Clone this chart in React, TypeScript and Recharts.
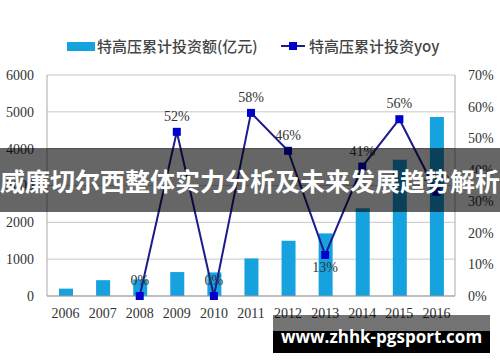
import React from 'react';
import { ComposedChart, Bar, Line, XAxis, YAxis, CartesianGrid, Legend, LabelList } from 'recharts';

const years = ['2006', '2007', '2008', '2009', '2010', '2011', '2012', '2013', '2014', '2015', '2016'];
const investment = [200, 430, 450, 650, 640, 1020, 1500, 1700, 2380, 3700, 4860];
const yoy = [null, null, 0, 52, 0, 58, 46, 13, 41, 56, 33];
const leftTicks = [0, 1000, 2000, 3000, 4000, 5000, 6000];
const rightTicks = [0, 10, 20, 30, 40, 50, 60, 70];

const barName = '特高压累计投资额(亿元)';
const lineName = '特高压累计投资yoy';
const bannerText = '威廉切尔西整体实力分析及未来发展趋势解析';
const siteText = 'www.zhhk-pgsport.com';

const data = years.map((year, i) => ({ year, investment: investment[i], yoy: yoy[i] }));

const BAR_COLOR = '#16a2de';
const LINE_COLOR = '#1c1c8e';
const DOT_COLOR = '#0000cc';
const tickStyle = { fontFamily: '"Liberation Serif", "DejaVu Serif", serif', fontSize: 14, fill: '#333' };

const SquareDot = (props: any) => {
    const { cx, cy, value } = props;
    if (value == null || cx == null || cy == null) return null;
    return <rect x={cx - 4} y={cy - 4} width={8} height={8} fill={DOT_COLOR} />;
};

const renderLabel = (props: any) => {
    const { x, y, value, index } = props;
    if (value == null) return null;
    const below = years[index] === '2013';
    return (
        <text
            x={x}
            y={below ? y + 17 : y - 11}
            textAnchor="middle"
            style={tickStyle}
        >
            {value}%
        </text>
    );
};

const renderLegend = () => (
    <div style={{ position: 'relative', width: 500, height: 20, fontFamily: '"Noto Sans CJK SC", sans-serif', fontSize: 15, color: '#444', fontWeight: 500 }}>
        <div style={{ position: 'absolute', left: 67, top: 6, width: 28, height: 9, background: BAR_COLOR }} />
        <span style={{ position: 'absolute', left: 97, top: -1, whiteSpace: 'nowrap' }}>{barName}</span>
        <div style={{ position: 'absolute', left: 281, top: 9, width: 24, height: 2, background: LINE_COLOR }} />
        <div style={{ position: 'absolute', left: 289, top: 6, width: 8, height: 8, background: DOT_COLOR }} />
        <span style={{ position: 'absolute', left: 309, top: -1, whiteSpace: 'nowrap' }}>{lineName}</span>
    </div>
);

const App = () => {
    return (
        <div style={{ position: 'absolute', left: 0, top: 0, width: 500, height: 362, background: '#fff', overflow: 'hidden' }}>
            <ComposedChart width={500} height={362} data={data} margin={{ top: 75, right: 0, bottom: 36, left: 0 }}>
                <CartesianGrid vertical={false} stroke="#c8c8c8" yAxisId="left" />
                <XAxis
                    dataKey="year"
                    height={30}
                    tick={tickStyle}
                    tickLine={false}
                    tickMargin={6}
                    axisLine={{ stroke: '#999' }}
                    interval={0}
                />
                <YAxis
                    yAxisId="left"
                    width={47}
                    domain={[0, 6000]}
                    ticks={leftTicks}
                    tick={tickStyle}
                    tickLine={false}
                    tickMargin={7}
                    axisLine={{ stroke: '#aaa' }}
                />
                <YAxis
                    yAxisId="right"
                    orientation="right"
                    width={45}
                    domain={[0, 70]}
                    ticks={rightTicks}
                    tickFormatter={(v: number) => `${v}%`}
                    tick={tickStyle}
                    tickLine={false}
                    tickMargin={7}
                    axisLine={{ stroke: '#aaa' }}
                />
                <Legend
                    layout="horizontal"
                    verticalAlign="middle"
                    align="center"
                    wrapperStyle={{ position: 'absolute', top: 36, left: 0, width: 500, height: 20 }}
                    content={renderLegend}
                />
                <Bar yAxisId="left" dataKey="investment" name={barName} fill={BAR_COLOR} barSize={14} isAnimationActive={false} />
                <Line
                    yAxisId="right"
                    dataKey="yoy"
                    name={lineName}
                    type="linear"
                    stroke={LINE_COLOR}
                    strokeWidth={2}
                    dot={<SquareDot />}
                    activeDot={false}
                    isAnimationActive={false}
                >
                    <LabelList dataKey="yoy" content={renderLabel} />
                </Line>
            </ComposedChart>
            <div
                style={{
                    position: 'absolute', left: 0, top: 148, width: 500, height: 64,
                    background: 'rgba(0,0,0,0.6)', color: '#fff',
                    fontFamily: '"Noto Sans CJK SC", sans-serif', fontWeight: 700, fontSize: 25,
                    lineHeight: '64px', textAlign: 'center', whiteSpace: 'nowrap',
                }}
            >
                {bannerText}
            </div>
            <div style={{ position: 'absolute', left: 273, top: 315, width: 217, height: 16, background: 'rgba(0,0,0,0.55)' }} />
            <div
                style={{
                    position: 'absolute', left: 273, top: 331, width: 217, height: 22, background: '#000',
                }}
            />
            <div
                style={{
                    position: 'absolute', left: 273, top: 325, width: 217, height: 24, color: '#fff',
                    fontFamily: '"Open Sans", sans-serif', fontWeight: 700, fontSize: 17,
                    lineHeight: '24px', textAlign: 'center', whiteSpace: 'nowrap',
                }}
            >
                {siteText}
            </div>
        </div>
    );
};

export default App;
